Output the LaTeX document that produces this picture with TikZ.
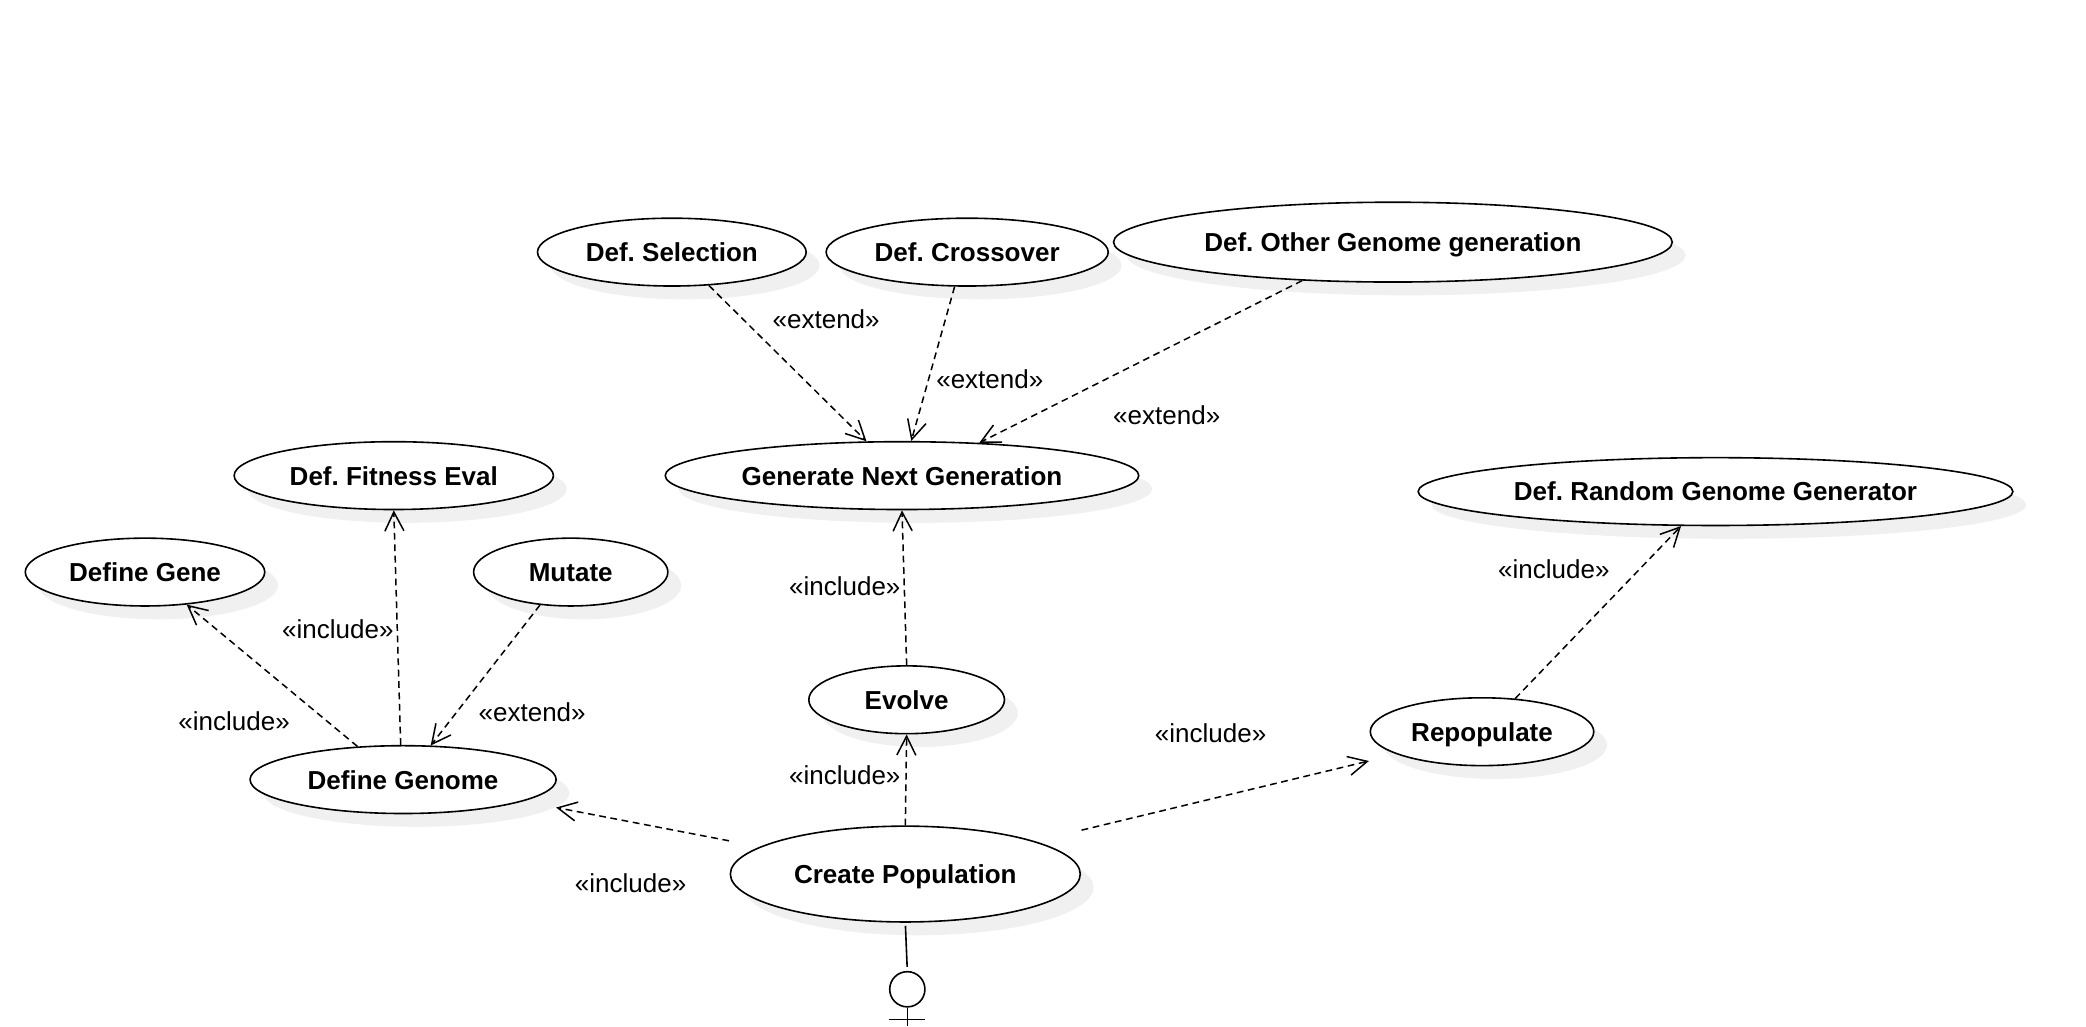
\documentclass[tikz,border=0pt]{standalone}
\usepackage{fontspec}
\setmainfont{Liberation Sans}
\usetikzlibrary{arrows.meta,shapes.geometric,shadows}

\definecolor{shadowgray}{HTML}{F0F0F0}
\frenchspacing

\tikzset{
	usecase/.style={ellipse,draw,fill=white,inner sep=0pt,minimum height=33.9pt,line width=0.8pt,
		font=\fontsize{13}{15}\selectfont\bfseries,text height=10.7pt,text depth=1.3pt,
		general shadow={shadow xshift=6.65pt,shadow yshift=-6.65pt,fill=shadowgray}},
	stereo/.style={font=\fontsize{13}{15}\selectfont,inner sep=0pt},
	dep/.style={->,line width=0.75pt,dash pattern=on 3.4pt off 2.3pt}
}

\begin{document}
\begin{tikzpicture}[>={Straight Barb[length=9.5pt,width=9.5pt]},x=0.665pt,y=-0.665pt]
	
	\useasboundingbox (0,0) rectangle (1568,771.4);
	
	\node [usecase,minimum width=134.3pt] (select) at (505,189.5) {Def. Selection};
	\node [usecase,minimum width=141pt] (cross) at (727,189.5) {Def. Crossover};
	\node [usecase,minimum width=279.3pt,minimum height=39.9pt] (other) at (1047,182) {Def. Other Genome generation};
	\node [usecase,minimum width=236.7pt] (nextgen) at (678,357.5) {Generate Next Generation};
	\node [usecase,minimum width=159.6pt] (fitness) at (296,357.5) {Def. Fitness Eval};
	\node [usecase,minimum width=297.3pt] (random) at (1289.5,369.5) {Def. Random Genome Generator};
	\node [usecase,minimum width=119.7pt] (gene) at (109,430) {Define Gene};
	\node [usecase,minimum width=97.1pt] (mutate) at (429,430) {Mutate};
	\node [usecase,minimum width=97.8pt] (evolve) at (681.5,526) {Evolve};
	\node [usecase,minimum width=111.7pt] (repop) at (1114,550) {Repopulate};
	\node [usecase,minimum width=153pt] (genome) at (303,586) {Define Genome};
	\node [usecase,minimum width=174.9pt,minimum height=47.9pt] (create) at (680.5,657) {Create Population};
	
	% the two arrows out of create population stop short of the ellipses
	\coordinate (createl) at (548,632);
	\coordinate (genomer) at (418,607);
	\coordinate (creater) at (813,624);
	\coordinate (repopl) at (1029,572);
	
	\draw [dep] (select.-42) -- (nextgen.136);
	\draw [dep] (cross.250) -- (nextgen.75);
	\draw [dep] (other.203) -- (nextgen.23);
	\draw [dep] (evolve.north) -- (nextgen.south);
	\draw [dep] (create.north) -- (evolve.south);
	\draw [dep] (createl) -- (genomer);
	\draw [dep] (creater) -- (repopl);
	\draw [dep] (repop.45) -- (random.225);
	\draw [dep] (genome.94) -- (fitness.south);
	\draw [dep] (genome.144) -- (gene.-38);
	\draw [dep] (mutate.227) -- (genome.51);
	
	\node [stereo] (ext1) at (621,240) {«extend»};
	\node [stereo] (ext2) at (744,285) {«extend»};
	\node [stereo] (ext3) at (877,312) {«extend»};
	\node [stereo] (ext4) at (400,535) {«extend»};
	\node [stereo] (inc1) at (635,441) {«include»};
	\node [stereo] (inc2) at (635,583) {«include»};
	\node [stereo] (inc3) at (254,473) {«include»};
	\node [stereo] (inc4) at (176,542) {«include»};
	\node [stereo] (inc5) at (474,664) {«include»};
	\node [stereo] (inc6) at (910,551) {«include»};
	\node [stereo] (inc7) at (1168,428) {«include»};
	
	% actor, cut off by the page
	\node [circle,draw,line width=0.8pt,minimum size=17.6pt,inner sep=0pt] (actor) at (682,743.6) {};
	\coordinate (actorfoot) at (682,771.4);
	\coordinate (arml) at (668.5,766.4);
	\coordinate (armr) at (695.5,766.4);
	\draw [line width=0.8pt,shorten <=1.5pt,shorten >=2pt] (create.south) -- (actor.north);
	\draw [line width=0.8pt] (actor.south) -- (actorfoot);
	\draw [line width=0.8pt] (arml) -- (armr);
	
\end{tikzpicture}
\end{document}
